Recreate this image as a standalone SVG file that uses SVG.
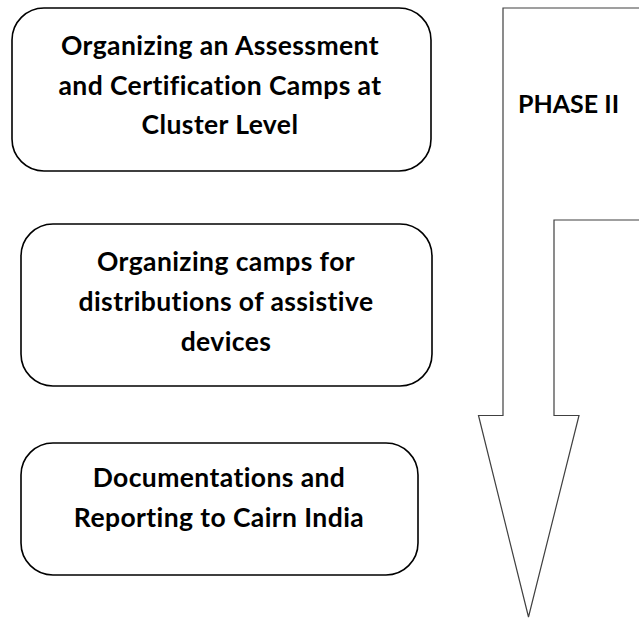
<svg xmlns="http://www.w3.org/2000/svg" width="639" height="618" viewBox="0 0 639 618">
<style>
.box{fill:#fff;stroke:#000;stroke-width:1.6}
.arrow{fill:#fff;stroke:#404040;stroke-width:1.2}
.t{font-family:Lato,"Open Sans","Liberation Sans",sans-serif;font-weight:bold;font-size:26.5px;letter-spacing:0.4px;fill:#000;text-anchor:middle}
.p{font-family:Lato,"Open Sans","Liberation Sans",sans-serif;font-weight:bold;font-size:25px;fill:#000}
</style>
<rect width="639" height="618" fill="#fff"/>
<g id="connectors">
<polygon id="phase-arrow" class="arrow" points="503,8 650,8 650,220 554,220 554,415.5 579,415.5 528.5,617 478.5,415.5 503,415.5"/>
</g>
<g id="phase-label"><text class="p" x="518" y="113">PHASE II</text></g>
<g id="node1">
<rect class="box" x="12" y="8" width="419" height="163" rx="32"/>
<text class="t" x="220" y="55">Organizing an Assessment</text>
<text class="t" x="220" y="94.5">and Certification Camps at</text>
<text class="t" x="220" y="134">Cluster Level</text>
</g>
<g id="node2">
<rect class="box" x="21" y="224" width="411" height="162" rx="32"/>
<text class="t" x="226" y="271">Organizing camps for</text>
<text class="t" x="226" y="310.5">distributions of assistive</text>
<text class="t" x="226" y="351">devices</text>
</g>
<g id="node3">
<rect class="box" x="21" y="443" width="397" height="132" rx="32"/>
<text class="t" x="219" y="487">Documentations and</text>
<text class="t" x="219" y="527">Reporting to Cairn India</text>
</g>
</svg>
